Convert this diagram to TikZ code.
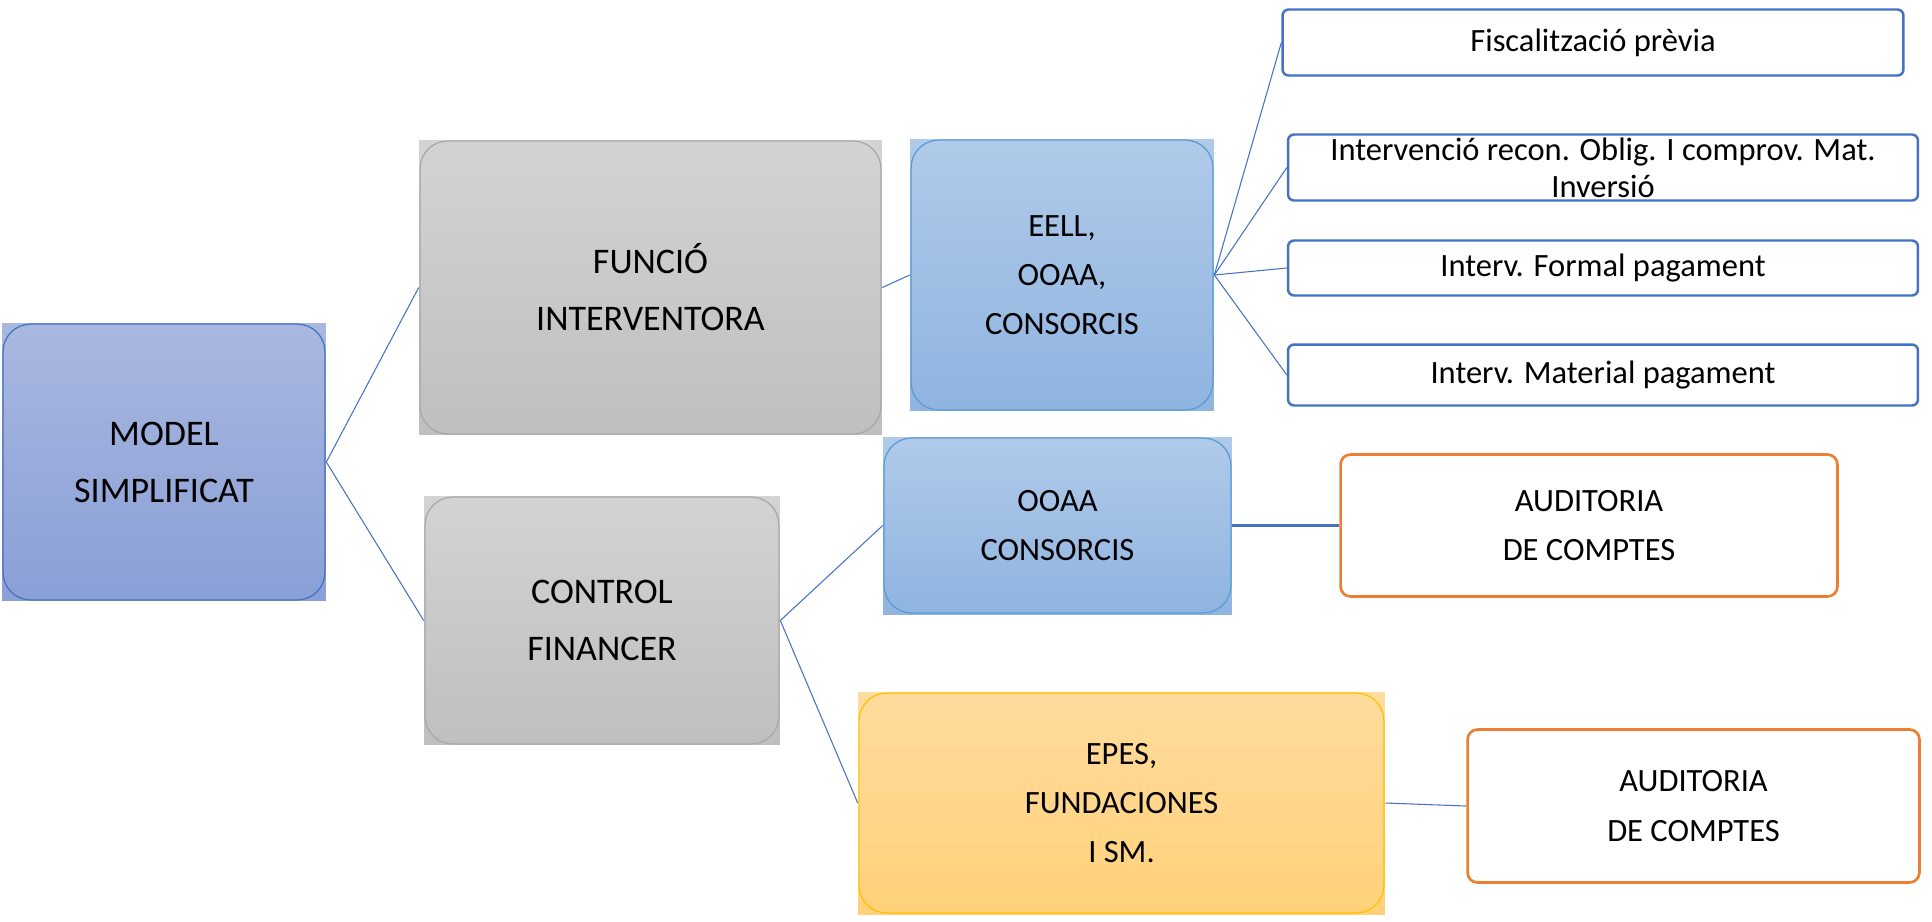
\documentclass[tikz,border=0pt]{standalone}
\usepackage{fontspec}
\setmainfont{Carlito}
\usetikzlibrary{calc}

\definecolor{modeltop}{HTML}{A9B8E0}
\definecolor{modelbot}{HTML}{899FD6}
\definecolor{accent}{HTML}{4472C4}
\definecolor{graytop}{HTML}{D3D3D3}
\definecolor{graybot}{HTML}{BFBFBF}
\definecolor{grayline}{HTML}{A8A8A8}
\definecolor{bluetop}{HTML}{B0CAE9}
\definecolor{bluebot}{HTML}{8FB4E0}
\definecolor{blueline}{HTML}{5B9BD5}
\definecolor{goldtop}{HTML}{FFDC9D}
\definecolor{goldbot}{HTML}{FFD17A}
\definecolor{goldline}{HTML}{FFC000}
\definecolor{orangeline}{HTML}{ED7D31}

\begin{document}
\begin{tikzpicture}[x=0.02cm,y=-0.02cm,
	rim/.style={path picture={\draw[#1,line width=0.7pt,rounded corners=0.55cm]
		([shift={(0.6pt,-0.6pt)}]path picture bounding box.north west) rectangle
		([shift={(-0.6pt,0.6pt)}]path picture bounding box.south east);}},
	bigtext/.style={rectangle,inner sep=0pt,align=center,font=\fontsize{20.5}{32.4}\selectfont},
	midtext/.style={rectangle,inner sep=0pt,align=center,font=\fontsize{18.5}{28}\selectfont},
	modelbox/.style={bigtext,top color=modeltop,bottom color=modelbot,rim=accent},
	graybox/.style={bigtext,top color=graytop,bottom color=graybot,rim=grayline},
	bluebox/.style={midtext,top color=bluetop,bottom color=bluebot,rim=blueline},
	goldbox/.style={midtext,top color=goldtop,bottom color=goldbot,rim=goldline},
	stepbox/.style={midtext,draw=accent,fill=white,line width=1.4pt,rounded corners=0.12cm,minimum width=12.6cm},
	auditbox/.style={midtext,draw=orangeline,fill=white,line width=1.5pt,rounded corners=0.2cm},
	link/.style={draw=accent,line width=0.6pt}]
	\useasboundingbox (0,0) rectangle (1932,921);
	% first column
	\node[modelbox,minimum width=6.48cm,minimum height=5.56cm] (M) at (164,462) {MODEL\\SIMPLIFICAT};
	% second column
	\node[graybox,minimum width=9.26cm,minimum height=5.9cm] (FI) at (650.5,287.5) {FUNCIÓ\\INTERVENTORA};
	\node[graybox,minimum width=7.12cm,minimum height=4.98cm] (CF) at (602,620.5) {CONTROL\\FINANCER};
	% third column
	\node[bluebox,minimum width=6.08cm,minimum height=5.44cm] (EE) at (1062,275) {EELL,\\OOAA,\\CONSORCIS};
	\node[bluebox,minimum width=6.98cm,minimum height=3.54cm] (OC) at (1057.5,525.5) {OOAA\\CONSORCIS};
	\node[goldbox,minimum width=10.54cm,minimum height=4.44cm] (EP) at (1121.5,803) {EPES,\\FUNDACIONES\\I SM.};
	% right column
	\node[stepbox,minimum width=12.42cm,minimum height=1.32cm] (FP) at (1593,42.5) {Fiscalització prèvia};
	\node[stepbox,minimum height=1.32cm,font=\fontsize{18.5}{21}\selectfont] (IR) at (1603,167.5) {Intervenció recon. Oblig. I comprov. Mat.\\Inversió};
	\node[stepbox,minimum height=1.1cm] (IF) at (1603,268) {Interv. Formal pagament};
	\node[stepbox,minimum height=1.22cm] (IM) at (1603,375) {Interv. Material pagament};
	\node[auditbox,minimum width=9.94cm,minimum height=2.84cm] (A1) at (1589,525.5) {AUDITORIA\\DE COMPTES};
	\node[auditbox,minimum width=9.04cm,minimum height=3.06cm] (A2) at (1693.5,806) {AUDITORIA\\DE COMPTES};
	% connectors
	\draw[link] (M.east) -- (FI.west);
	\draw[link] (M.east) -- (CF.west);
	\draw[link] (FI.east) -- (EE.west);
	\draw[link] (CF.east) -- (OC.west);
	\draw[link] (CF.east) -- (EP.west);
	\draw[link] (EE.east) -- (FP.west);
	\draw[link] (EE.east) -- (IR.west);
	\draw[link] (EE.east) -- (IF.west);
	\draw[link] (EE.east) -- (IM.west);
	\draw[link,line width=1.2pt] (OC.east) -- (A1.west);
	\draw[link] (EP.east) -- (A2.west);
\end{tikzpicture}
\end{document}
